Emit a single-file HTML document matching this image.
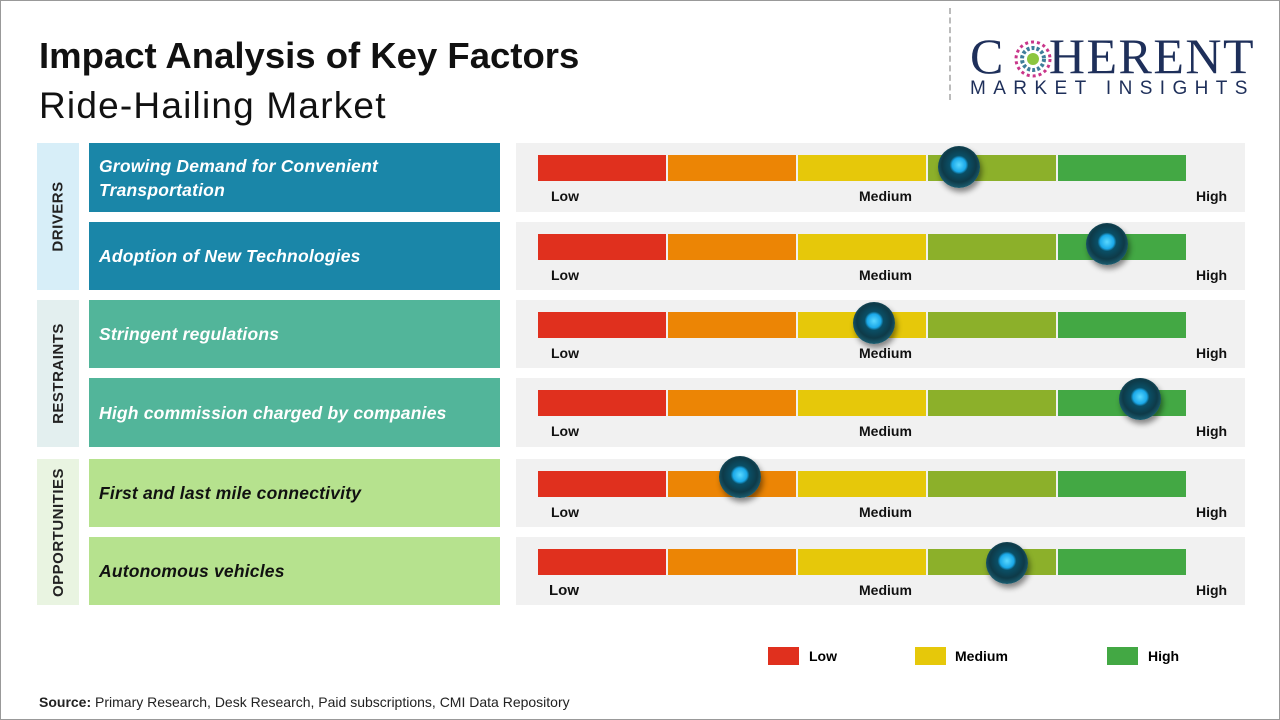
<!DOCTYPE html>
<html><head><meta charset="utf-8"><style>
*{margin:0;padding:0;box-sizing:border-box}
body{width:1280px;height:720px;position:relative;background:#fff;font-family:"Liberation Sans","DejaVu Sans",sans-serif;overflow:hidden}
.a{position:absolute}
.tab{position:absolute;left:37px;width:42px;display:flex;align-items:center;justify-content:center}
.tab span{transform:rotate(-90deg);white-space:nowrap;font-weight:bold;font-size:15px;color:#222;letter-spacing:0.5px}
.lab{position:absolute;left:89px;width:411px;height:68px;display:flex;align-items:center;padding-left:10px;font-style:italic;font-weight:bold;font-size:17.5px;color:#fff;line-height:24px;letter-spacing:0.2px}
.pan{position:absolute;left:516px;width:729px;height:68px;background:#f1f1f1}
.bar{position:absolute;left:22px;top:12px;height:26px;width:648px;display:flex}
.bar div{flex:1;margin-right:2px}
.bar div:last-child{margin-right:0}
.t{position:absolute;top:45px;font-weight:bold;font-size:14px;color:#111}
.k{position:absolute;width:42px;height:42px;border-radius:50%;background:radial-gradient(circle at 50% 45%,#5ad8ff 0,#1aa8e8 22%,#0a4f66 30%,#0e3a48 55%,#1c5f72 75%,#0a2830 100%);box-shadow:2px 4px 6px rgba(0,0,0,.45)}
</style></head><body>
<div class="a" style="left:0;top:0;width:1280px;height:720px;border:1px solid #999"></div>
<div class="a" style="left:39px;top:35px;font-size:36.5px;font-weight:bold;color:#111">Impact Analysis of Key Factors</div>
<div class="a" style="left:39px;top:85px;font-size:37px;color:#111;letter-spacing:1.2px">Ride-Hailing Market</div>
<div class="a" style="left:949px;top:8px;height:92px;border-left:2px dashed #bbb"></div>
<div class="a" style="left:970px;top:28px;font-family:'Liberation Serif',serif;font-size:50px;color:#1e2f5a;letter-spacing:1.5px;line-height:56px">C<span style="display:inline-block;width:44px"></span>HERENT</div>
<svg class="a" style="left:1012px;top:38px" width="42" height="42"><g>
<circle cx="21" cy="21" r="17" fill="none" stroke="#c9368a" stroke-width="3" stroke-dasharray="3 3"/>
<circle cx="21" cy="21" r="11" fill="none" stroke="#3f7d9a" stroke-width="4" stroke-dasharray="3 2"/>
<circle cx="21" cy="21" r="6" fill="#8cc63f"/></g></svg>
<div class="a" style="left:970px;top:78px;font-size:19px;color:#1e2f5a;letter-spacing:7.4px">MARKET INSIGHTS</div>

<div class="tab" style="top:143px;height:147px;background:#d7eef8"><span>DRIVERS</span></div>
<div class="tab" style="top:300px;height:147px;background:#e3efef"><span>RESTRAINTS</span></div>
<div class="tab" style="top:459px;height:146px;background:#e9f4e1"><span>OPPORTUNITIES</span></div>

<div class="lab" style="top:143px;height:69px;background:#1a86a8">Growing Demand for Convenient<br>Transportation</div>
<div class="lab" style="top:222px;background:#1a86a8">Adoption of New Technologies</div>
<div class="lab" style="top:300px;background:#52b59a">Stringent regulations</div>
<div class="lab" style="top:378px;height:69px;background:#52b59a">High commission charged by companies</div>
<div class="lab" style="top:459px;background:#b6e28e;color:#111">First and last mile connectivity</div>
<div class="lab" style="top:537px;background:#b6e28e;color:#111">Autonomous vehicles</div>

<div class="pan" style="top:143px;height:69px"><div class="bar"><div style="background:#e0301e"></div><div style="background:#ec8505"></div><div style="background:#e6c80a"></div><div style="background:#8cb02a"></div><div style="background:#43a844"></div></div><span class="t" style="left:35px">Low</span><span class="t" style="left:343px">Medium</span><span class="t" style="left:680px">High</span></div>
<div class="pan" style="top:222px"><div class="bar"><div style="background:#e0301e"></div><div style="background:#ec8505"></div><div style="background:#e6c80a"></div><div style="background:#8cb02a"></div><div style="background:#43a844"></div></div><span class="t" style="left:35px">Low</span><span class="t" style="left:343px">Medium</span><span class="t" style="left:680px">High</span></div>
<div class="pan" style="top:300px"><div class="bar"><div style="background:#e0301e"></div><div style="background:#ec8505"></div><div style="background:#e6c80a"></div><div style="background:#8cb02a"></div><div style="background:#43a844"></div></div><span class="t" style="left:35px">Low</span><span class="t" style="left:343px">Medium</span><span class="t" style="left:680px">High</span></div>
<div class="pan" style="top:378px;height:69px"><div class="bar"><div style="background:#e0301e"></div><div style="background:#ec8505"></div><div style="background:#e6c80a"></div><div style="background:#8cb02a"></div><div style="background:#43a844"></div></div><span class="t" style="left:35px">Low</span><span class="t" style="left:343px">Medium</span><span class="t" style="left:680px">High</span></div>
<div class="pan" style="top:459px"><div class="bar"><div style="background:#e0301e"></div><div style="background:#ec8505"></div><div style="background:#e6c80a"></div><div style="background:#8cb02a"></div><div style="background:#43a844"></div></div><span class="t" style="left:35px">Low</span><span class="t" style="left:343px">Medium</span><span class="t" style="left:680px">High</span></div>
<div class="pan" style="top:537px"><div class="bar"><div style="background:#e0301e"></div><div style="background:#ec8505"></div><div style="background:#e6c80a"></div><div style="background:#8cb02a"></div><div style="background:#43a844"></div></div><span class="t" style="left:33px;font-size:15px">Low</span><span class="t" style="left:343px">Medium</span><span class="t" style="left:680px">High</span></div>

<div class="k" style="left:938px;top:146px"></div>
<div class="k" style="left:1086px;top:223px"></div>
<div class="k" style="left:853px;top:302px"></div>
<div class="k" style="left:1119px;top:378px"></div>
<div class="k" style="left:719px;top:456px"></div>
<div class="k" style="left:986px;top:542px"></div>

<div class="a" style="left:768px;top:647px;width:31px;height:18px;background:#e0301e"></div>
<div class="a" style="left:809px;top:648px;font-size:14px;font-weight:bold">Low</div>
<div class="a" style="left:915px;top:647px;width:31px;height:18px;background:#e6c80a"></div>
<div class="a" style="left:955px;top:648px;font-size:14px;font-weight:bold">Medium</div>
<div class="a" style="left:1107px;top:647px;width:31px;height:18px;background:#43a844"></div>
<div class="a" style="left:1148px;top:648px;font-size:14px;font-weight:bold">High</div>

<div class="a" style="left:39px;top:694px;font-size:14px;color:#222"><b>Source:</b> Primary Research, Desk Research, Paid subscriptions, CMI Data Repository</div>
</body></html>
